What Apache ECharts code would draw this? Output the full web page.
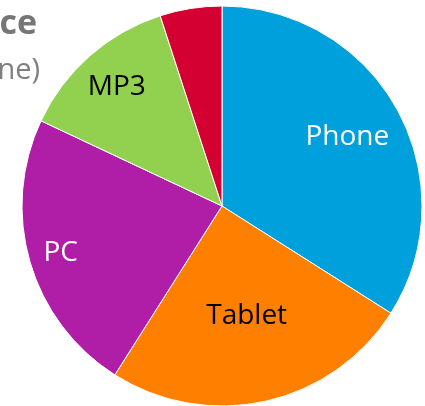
<!DOCTYPE html>
<html>
<head>
<meta charset="utf-8">
<script src="https://cdn.jsdelivr.net/npm/echarts@6/dist/echarts.min.js"></script>
<style>
  html, body { margin: 0; padding: 0; background: #fff; }
  #chart { width: 425px; height: 406px; }
</style>
</head>
<body>
<div id="chart"></div>
<script>
// data
const devices = ['Phone', 'Tablet', 'PC', 'MP3', 'Other']
const shares = [34, 25, 23, 13, 5]
const colors = ['#00a0dc', '#ff8000', '#b01ea8', '#92d050', '#d50032']
const labelColors = ['#fff', '#000', '#fff', '#000', '#fff']
// how far out (inner radius of the label ring) each label sits
const labelRing = [80, 20, 130, 112, null]

const chart = echarts.init(document.getElementById('chart'))

const font = '"Open Sans", sans-serif'
const center = [222, 206]
const R = 200

// one transparent ring per label, so each label gets its own distance
const labelSeries = devices.map((dev, k) => {
  if (labelRing[k] === null) return null
  return {
    type: 'pie',
    center,
    radius: [labelRing[k], R],
    startAngle: 90,
    silent: true,
    z: 3,
    label: { position: 'inside', fontFamily: font, fontSize: 28 },
    labelLine: { show: false },
    data: devices.map((name, i) => ({
      name,
      value: shares[i],
      itemStyle: { color: 'rgba(0,0,0,0)' },
      label: { show: i === k, color: labelColors[i] }
    }))
  }
}).filter(Boolean)

chart.setOption({
  animation: false,
  title: [
    {
      text: 'Sales by Device',
      right: 388,
      top: 7,
      padding: 0,
      textStyle: { fontFamily: font, fontSize: 34, fontWeight: 'bold', color: '#767676' }
    },
    {
      text: '(Units Sold Online)',
      right: 385,
      top: 56,
      padding: 0,
      textStyle: { fontFamily: font, fontSize: 29, fontWeight: 'normal', color: '#7f7f7f' }
    }
  ],
  series: [
    {
      type: 'pie',
      center,
      radius: [0, R],
      startAngle: 90,
      silent: true,
      itemStyle: { borderColor: '#fff', borderWidth: 1 },
      label: { show: false },
      labelLine: { show: false },
      data: devices.map((name, i) => ({
        name,
        value: shares[i],
        itemStyle: { color: colors[i] }
      }))
    },
    ...labelSeries
  ]
})
</script>
</body>
</html>
